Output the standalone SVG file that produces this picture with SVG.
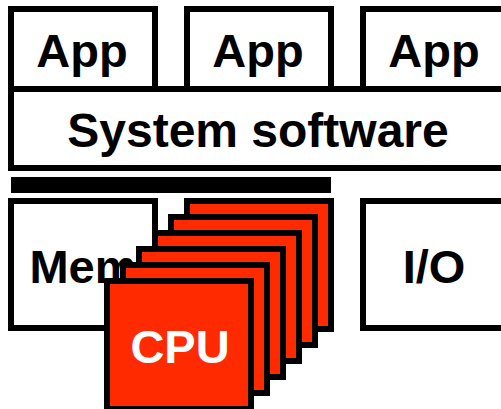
<svg xmlns="http://www.w3.org/2000/svg" width="501" height="409" viewBox="0 0 501 409">
<style>
.box{fill:#fff;stroke:#000;stroke-width:6}
.card{fill:#ff2a00;stroke:#000;stroke-width:6}
.lbl{font-family:"Liberation Sans",Arial,sans-serif;font-weight:bold;font-size:47px;text-anchor:middle;fill:#000}
.big{font-size:48px}
.wl{fill:#fff}
</style>
<rect width="501" height="409" fill="#fff"/>
<g id="app1"><rect class="box" x="11" y="9" width="144" height="80"/><text class="lbl" x="82" y="67">App</text></g>
<g id="app2"><rect class="box" x="187" y="9" width="144" height="80"/><text class="lbl" x="258" y="67">App</text></g>
<g id="app3"><rect class="box" x="363" y="9" width="144" height="80"/><text class="lbl" x="434" y="67">App</text></g>
<g id="system"><rect class="box" x="11" y="89" width="496" height="79"/><text class="lbl big" x="258" y="147">System software</text></g>
<g id="bus"><rect x="11" y="177" width="320" height="16" fill="#000"/></g>
<g id="mem"><rect class="box" x="11" y="201" width="144" height="127"/><text class="lbl" x="83" y="283">Mem</text></g>
<g id="io"><rect class="box" x="363" y="201" width="144" height="127"/><text class="lbl" x="434" y="283">I/O</text></g>
<g id="cpus">
<rect class="card" x="187" y="201" width="144" height="128"/>
<rect class="card" x="171" y="217" width="144" height="128"/>
<rect class="card" x="155" y="233" width="144" height="128"/>
<rect class="card" x="139" y="249" width="144" height="128"/>
<rect class="card" x="123" y="265" width="144" height="128"/>
<g id="cpu"><rect class="card" x="107" y="281" width="144" height="128"/><text class="lbl wl" x="180" y="363">CPU</text></g>
</g>
</svg>
